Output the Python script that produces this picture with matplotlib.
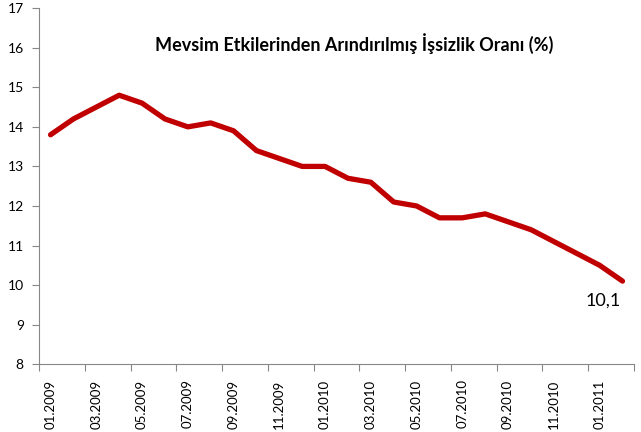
import matplotlib
matplotlib.use("Agg")
import numpy as np
from matplotlib import pyplot as plt

# Monthly seasonally adjusted unemployment rate, 01.2009 - 02.2011
months = ['01.2009', '02.2009', '03.2009', '04.2009', '05.2009', '06.2009',
          '07.2009', '08.2009', '09.2009', '10.2009', '11.2009', '12.2009',
          '01.2010', '02.2010', '03.2010', '04.2010', '05.2010', '06.2010',
          '07.2010', '08.2010', '09.2010', '10.2010', '11.2010', '12.2010',
          '01.2011', '02.2011']
rate = [13.8, 14.2, 14.5, 14.8, 14.6, 14.2, 14.0, 14.1, 13.9, 13.4, 13.2,
        13.0, 13.0, 12.7, 12.6, 12.1, 12.0, 11.7, 11.7, 11.8, 11.6, 11.4,
        11.1, 10.8, 10.5, 10.1]
title = 'Mevsim Etkilerinden Arındırılmış İşsizlik Oranı (%)'
last_label = '10,1'

plt.rcParams['font.family'] = ['Lato', 'DejaVu Sans']

fig = plt.figure(figsize=(6.41, 4.32), dpi=100)
ax = fig.add_axes([0.061, 0.157, 0.928, 0.824])

x = np.arange(len(months))
ax.plot(x, rate, color='#C00000', linewidth=3.8, solid_capstyle='round',
        solid_joinstyle='round')

ax.set_xlim(-0.5, len(months) - 0.5)
ax.set_ylim(8, 17)
ax.set_yticks(range(8, 18))
ax.tick_params(axis='y', labelsize=10, length=5, color='#878787', pad=6)

# category boundaries every two months, labels on every second month
ax.set_xticks(np.arange(-0.5, len(months), 2))
ax.set_xticklabels([])
ax.set_xticks(x[::2], minor=True)
ax.set_xticklabels(months[::2], minor=True, rotation=90, fontsize=9.5)
ax.tick_params(axis='x', which='major', length=5, color='#878787')
ax.tick_params(axis='x', which='minor', length=0, pad=11)

for side in ['top', 'right']:
    ax.spines[side].set_visible(False)
for side in ['left', 'bottom']:
    ax.spines[side].set_color('#878787')

ax.text(0.53, 0.9, title, transform=ax.transAxes, ha='center', va='center',
        fontsize=13, fontweight='bold')
ax.annotate(last_label, (x[-1], rate[-1]), xytext=(-1, -14),
            textcoords='offset points', ha='right', va='center', fontsize=13)

fig.savefig('out.png', dpi=100)
